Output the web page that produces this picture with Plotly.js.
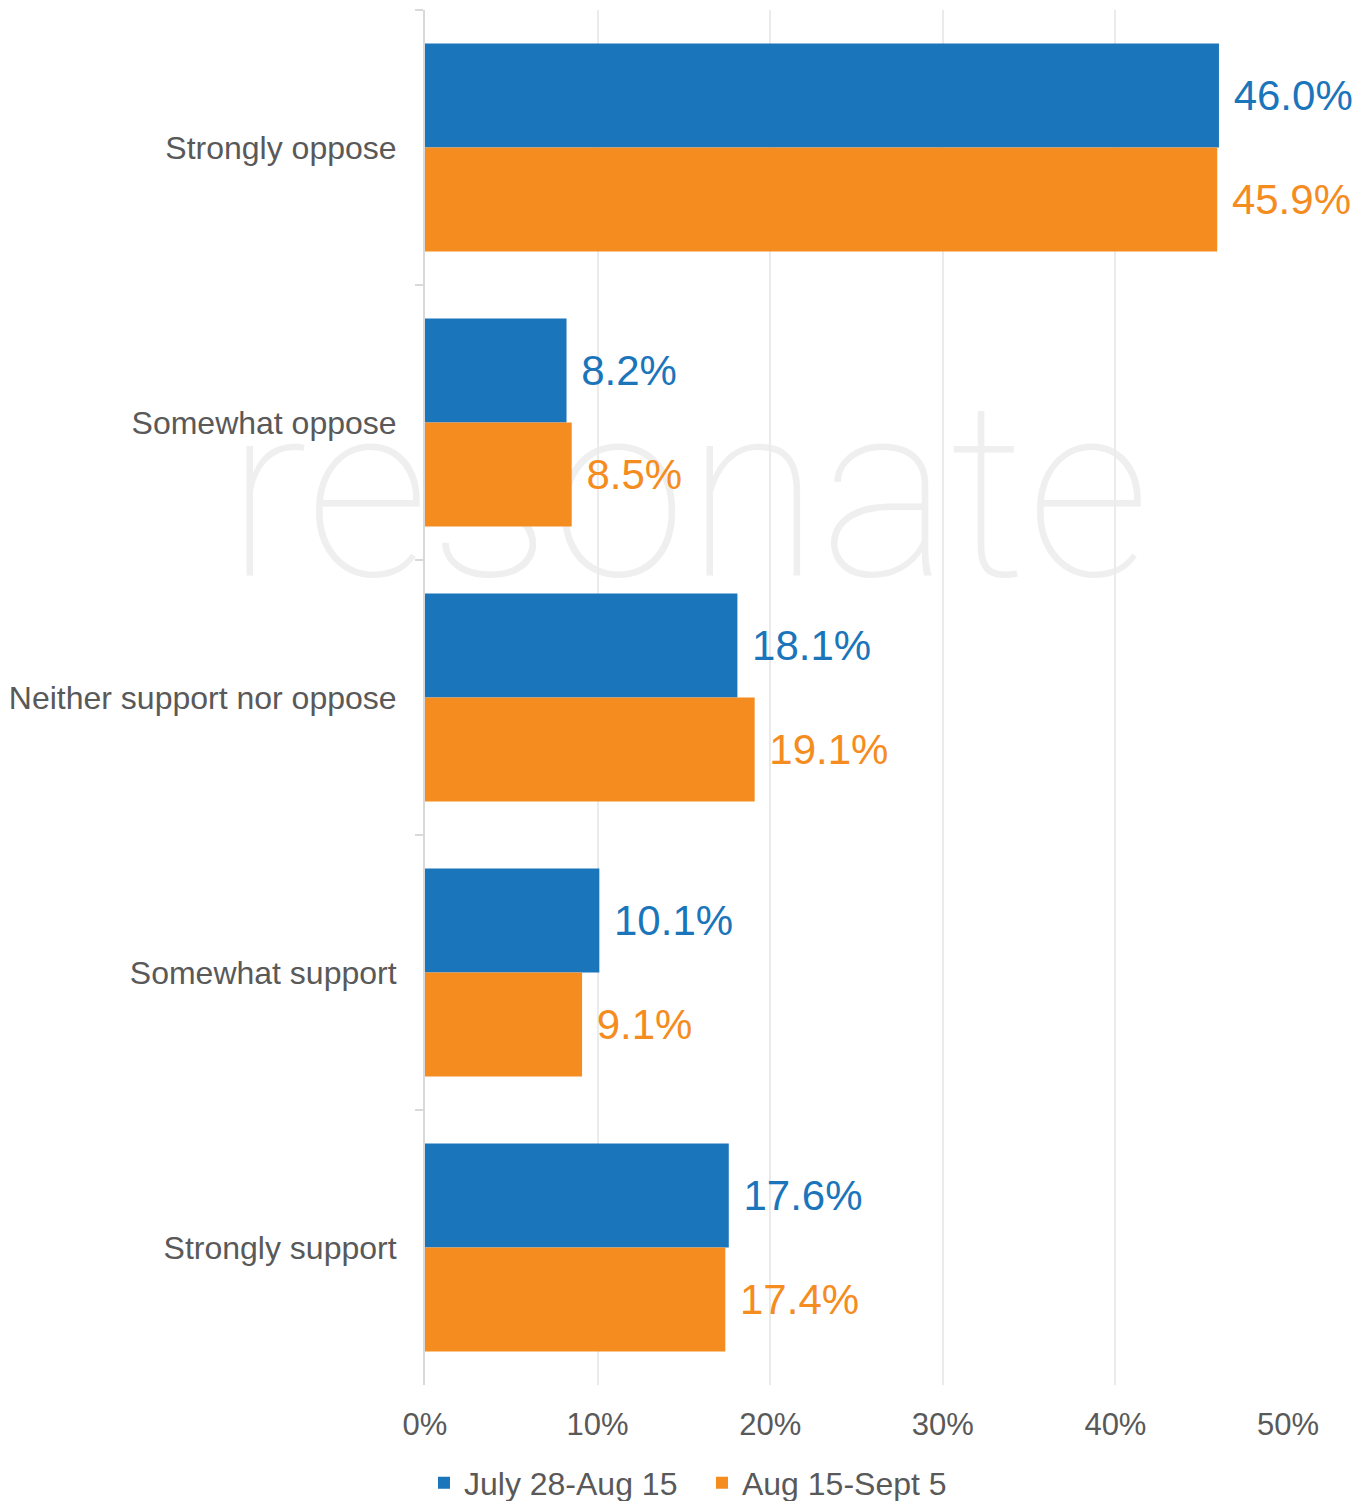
<!DOCTYPE html>
<html>
<head>
<meta charset="utf-8">
<script src="https://cdn.plot.ly/plotly-3.0.1.min.js"></script>
<style>
html,body{margin:0;padding:0;background:#fff;}
#chart{width:1369px;height:1501px;}
</style>
</head>
<body>
<div id="chart"></div>
<script>
const categories = ["Strongly oppose", "Somewhat oppose", "Neither support nor oppose", "Somewhat support", "Strongly support"];
const seriesNames = ["July 28-Aug 15", "Aug 15-Sept 5"];
const july = [46.0, 8.2, 18.1, 10.1, 17.6];
const august = [45.9, 8.5, 19.1, 9.1, 17.4];
const xTickVals = [0, 10, 20, 30, 40, 50];
const xTickText = ["0%", "10%", "20%", "30%", "40%", "50%"];
const watermark = "resonate";

const blue = "rgb(27,117,187)";
const orange = "rgb(245,140,31)";
const labelFont = "Liberation Sans, Arial, sans-serif";

function trace(vals, name, color) {
  return {
    type: "bar",
    orientation: "h",
    y: categories,
    x: vals,
    name: name,
    marker: {color: color, line: {width: 0}},
    text: vals.map(v => " " + v.toFixed(1) + "%"),
    textposition: "outside",
    textfont: {family: labelFont, size: 42, color: color},
    constraintext: "none",
    cliponaxis: false,
    hoverinfo: "skip"
  };
}

const data = [trace(july, seriesNames[0], blue), trace(august, seriesNames[1], orange)];

const layout = {
  width: 1369,
  height: 1501,
  margin: {l: 425, r: 81, t: 10, b: 116},
  paper_bgcolor: "#fff",
  plot_bgcolor: "rgba(0,0,0,0)",
  barmode: "group",
  bargap: 0.244,
  bargroupgap: 0,
  font: {family: labelFont, color: "#595959"},
  xaxis: {
    range: [0, 50],
    tickvals: xTickVals,
    ticktext: xTickText,
    showgrid: true,
    gridcolor: "#ebebeb",
    gridwidth: 2,
    zeroline: false,
    showline: false,
    ticks: "",
    ticklabelstandoff: 18,
    tickfont: {family: labelFont, size: 31, color: "#595959"},
    fixedrange: true
  },
  yaxis: {
    autorange: "reversed",
    type: "category",
    showline: true,
    linecolor: "#d9d9d9",
    linewidth: 2,
    ticks: "outside",
    tickson: "boundaries",
    ticklen: 8,
    tickwidth: 2,
    tickcolor: "#d9d9d9",
    showgrid: false,
    ticklabelstandoff: 20,
    tickfont: {family: labelFont, size: 32, color: "#595959"},
    fixedrange: true
  },
  legend: {
    orientation: "h",
    xref: "container",
    yref: "container",
    x: 0.3097,
    xanchor: "left",
    y: 0.012,
    yanchor: "middle",
    font: {family: labelFont, size: 32, color: "#595959"},
    traceorder: "normal",
    itemwidth: 30,
    entrywidth: 233
  },
  shapes: [{
    type: "rect",
    layer: "below",
    xref: "paper",
    yref: "paper",
    x0: 0.0,
    x1: 0.61,
    y0: 0.6025,
    y1: 0.7225,
    line: {width: 0},
    fillcolor: "rgba(0,0,0,0)",
    label: {
      text: watermark,
      textposition: "middle center",
      font: {family: "Roboto", size: 245, color: "#efefef", weight: 100}
    }
  }],
  showlegend: true
};

Plotly.newPlot("chart", data, layout, {displayModeBar: false, staticPlot: true});
</script>
</body>
</html>
